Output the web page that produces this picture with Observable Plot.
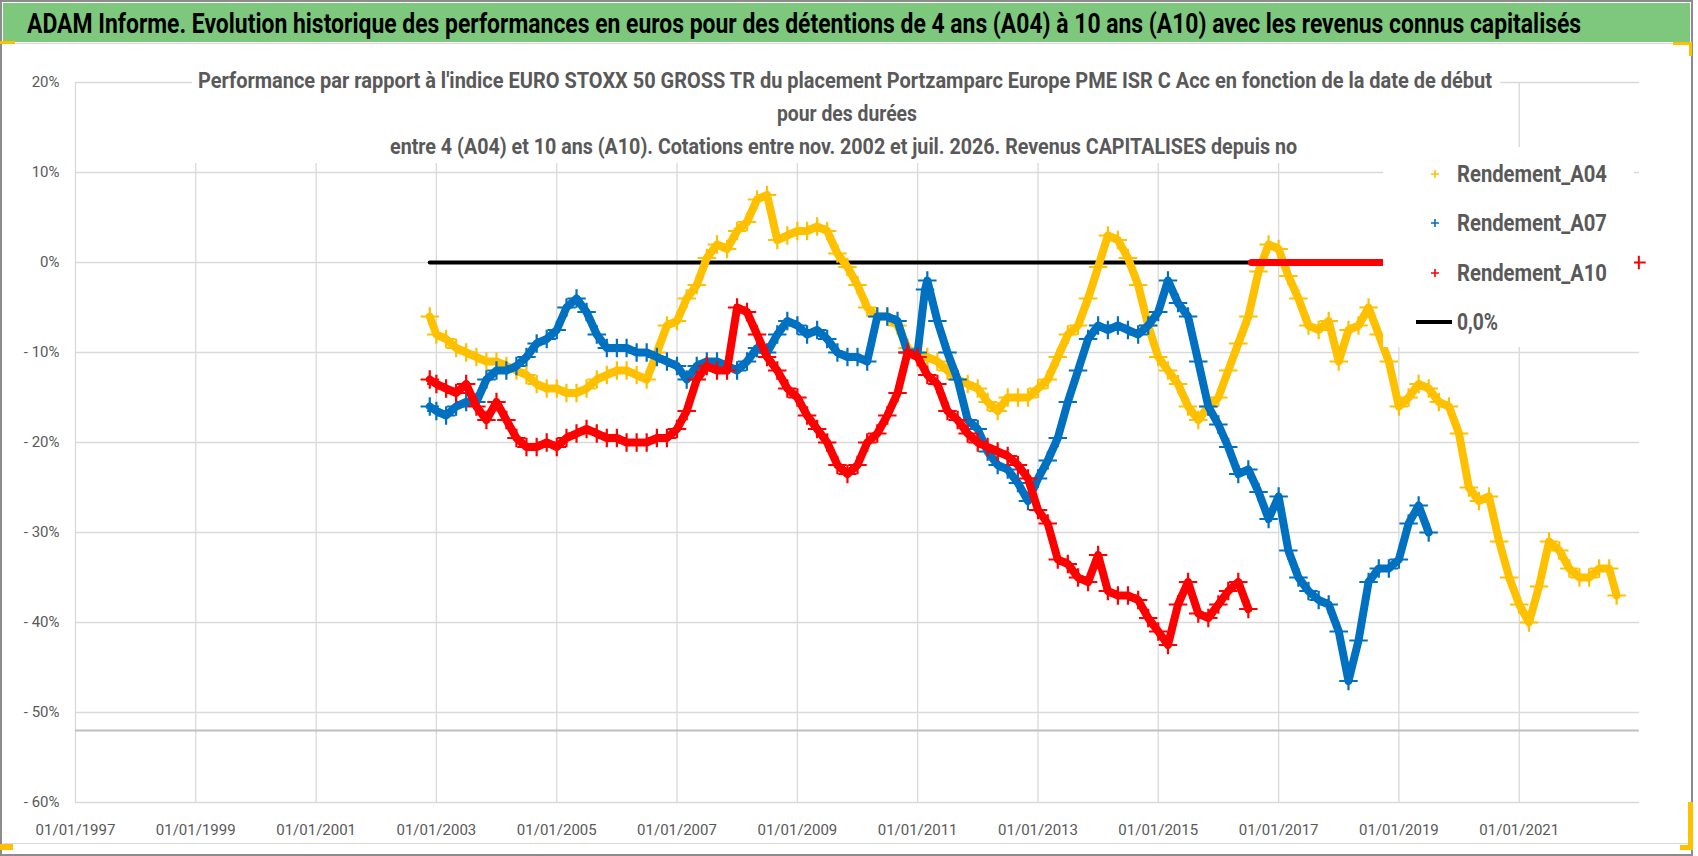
<!DOCTYPE html>
<html>
<head>
<meta charset="utf-8">
<script src="https://cdn.jsdelivr.net/npm/d3@7"></script>
<script src="https://cdn.jsdelivr.net/npm/@observablehq/plot@0.6"></script>
<style>
  body { margin: 0; background: #fff; }
  #chart { position: relative; width: 1698px; height: 856px; overflow: hidden; background: #fff; font-family: Roboto, "Open Sans", sans-serif; }
  #chart > svg { position: absolute; left: 0; top: 0; }
  .lg { font-family: Roboto, sans-serif; font-weight: bold; font-size: 23px; fill: #595959; }
  .st { font-family: Roboto, sans-serif; font-weight: bold; font-size: 22px; fill: #595959; }
  .tt { font-family: Roboto, sans-serif; font-weight: bold; font-size: 27px; fill: #000; }
</style>
</head>
<body>
<div id="chart">
</div>
<script>
// ---------- data ----------
const xTickYears = [1997, 1999, 2001, 2003, 2005, 2007, 2009, 2011, 2013, 2015, 2017, 2019, 2021];
const yTicks = [-60, -50, -40, -30, -20, -10, 0, 10, 20];
const axisLine = [-52];
const xDomain = ["1997-01-01", "2023-01-01"];

const seriesNames = ["Rendement_A04", "Rendement_A07", "Rendement_A10", "0,0%"];
const seriesColors = ["#FFC000", "#0070C0", "#FF0000", "#000000"];

const a04 = [
  ["2002-11-22",-6],["2003-01",-8],["2003-03",-8.5],["2003-05",-9.5],["2003-07",-10],["2003-09",-10.5],["2003-11",-11],
  ["2004-01",-11],["2004-03",-11.5],["2004-05",-12],["2004-07",-12.5],["2004-09",-13.5],["2004-11",-14],
  ["2005-01",-14],["2005-03",-14.5],["2005-05",-14.5],["2005-07",-14],["2005-09",-13],["2005-11",-12.5],
  ["2006-01",-12],["2006-03",-12],["2006-05",-12.5],["2006-07",-13],["2006-09",-10],["2006-11",-7],
  ["2007-01",-6.5],["2007-03",-4],["2007-05",-2.5],["2007-07",0.5],["2007-09",2],["2007-11",1.5],
  ["2008-01",3.5],["2008-03",4.5],["2008-05",7],["2008-07",7.5],["2008-09",2.5],["2008-11",3],
  ["2009-01",3.5],["2009-03",3.5],["2009-05",4],["2009-07",3.5],["2009-09",1],["2009-11",-0.5],
  ["2010-01",-2.5],["2010-03",-5],["2010-05",-6],["2010-07",-6],["2010-09",-7],["2010-11",-9.5],
  ["2011-01",-10.5],["2011-03",-10.5],["2011-05",-11],["2011-07",-12],["2011-09",-13],["2011-11",-13.5],
  ["2012-01",-14],["2012-03",-15.5],["2012-05",-16.5],["2012-07",-15],["2012-09",-15],["2012-11",-15],
  ["2013-01",-14],["2013-03",-13],["2013-05",-10.5],["2013-07",-8],["2013-09",-7],["2013-11",-4],
  ["2014-01",-0.5],["2014-03",3],["2014-05",2.5],["2014-07",0.5],["2014-09",-2.5],["2014-11",-7],
  ["2015-01",-10.5],["2015-03",-12],["2015-05",-13.5],["2015-07",-16],["2015-09",-17.5],["2015-11",-16],
  ["2016-01",-15],["2016-03",-12],["2016-05",-9],["2016-07",-6],["2016-09",-1],["2016-11",2],
  ["2017-01",1.5],["2017-03",-1.5],["2017-05",-4],["2017-07",-7],["2017-09",-7.5],["2017-11",-6.5],
  ["2018-01",-11],["2018-03",-7.5],["2018-05",-7],["2018-07",-5],["2018-09",-8],["2018-11",-11],
  ["2019-01",-16],["2019-03",-15],["2019-05",-13.5],["2019-07",-14],["2019-09",-15.5],["2019-11",-16],
  ["2020-01",-19],["2020-03",-25],["2020-05",-26.5],["2020-07",-26],["2020-09",-31],["2020-11",-35],
  ["2021-01",-38],["2021-03",-40],["2021-05",-36],["2021-07",-31],["2021-09",-32],["2021-11",-34],
  ["2022-01",-35],["2022-03",-35],["2022-05",-34],["2022-07",-34],["2022-08-15",-37]
];

const a07 = [
  ["2002-11-22",-16],["2003-01",-16.5],["2003-03",-17],["2003-05",-16],["2003-07",-15.5],["2003-09",-15.5],["2003-11",-13],
  ["2004-01",-12],["2004-03",-12],["2004-05",-11.5],["2004-07",-10.5],["2004-09",-9],["2004-11",-8.5],
  ["2005-01",-7.5],["2005-03",-5],["2005-05",-4],["2005-07",-5.5],["2005-09",-8],["2005-11",-9.5],
  ["2006-01",-9.5],["2006-03",-9.5],["2006-05",-10],["2006-07",-10],["2006-09",-10.5],["2006-11",-11],
  ["2007-01",-11.5],["2007-03",-13],["2007-05",-11.5],["2007-07",-11],["2007-09",-11],["2007-11",-11.5],
  ["2008-01",-12],["2008-03",-11],["2008-05",-9.5],["2008-07",-10],["2008-09",-8],["2008-11",-6.5],
  ["2009-01",-7],["2009-03",-8],["2009-05",-7.5],["2009-07",-8.5],["2009-09",-10],["2009-11",-10.5],
  ["2010-01",-10.5],["2010-03",-11],["2010-05",-6],["2010-07",-6],["2010-09",-6.5],["2010-11",-10],
  ["2011-01",-10],["2011-02-15",-3],["2011-03",-2],["2011-05",-6.5],["2011-07",-10],["2011-09",-13],["2011-11",-17.5],
  ["2012-01",-18.5],["2012-03",-21],["2012-05",-22.5],["2012-07",-23],["2012-09",-24.5],["2012-11",-26.5],
  ["2013-01",-24],["2013-03",-22],["2013-05",-19.5],["2013-07",-15.5],["2013-09",-12],["2013-11",-8.5],
  ["2014-01",-7],["2014-03",-7.5],["2014-05",-7],["2014-07",-7.5],["2014-09",-8],["2014-11",-7],
  ["2015-01",-5.5],["2015-03",-2],["2015-05",-4.5],["2015-07",-6],["2015-09",-11],["2015-11",-16],
  ["2016-01",-18],["2016-03",-20.5],["2016-05",-23.5],["2016-07",-23],["2016-09",-25.5],["2016-11",-28.5],
  ["2017-01",-26],["2017-03",-32],["2017-05",-35],["2017-07",-36.5],["2017-09",-37.5],["2017-11",-38],
  ["2018-01",-41],["2018-03",-46.5],["2018-05",-42],["2018-07",-35.5],["2018-09",-34],["2018-11",-34],
  ["2019-01",-33],["2019-03",-29],["2019-05",-27],["2019-07",-30]
];

const a10 = [
  ["2002-11-22",-13],["2003-01",-13.5],["2003-03",-14],["2003-05",-14.5],["2003-07",-13.5],["2003-09",-16],["2003-11",-17.5],
  ["2004-01",-15.5],["2004-03",-17.5],["2004-05",-19.5],["2004-07",-20.5],["2004-09",-20.5],["2004-11",-20],
  ["2005-01",-20.5],["2005-03",-19.5],["2005-05",-19],["2005-07",-18.5],["2005-09",-19],["2005-11",-19.5],
  ["2006-01",-19.5],["2006-03",-20],["2006-05",-20],["2006-07",-20],["2006-09",-19.5],["2006-11",-19.5],
  ["2007-01",-18.5],["2007-03",-16.5],["2007-05",-13],["2007-07",-11.5],["2007-09",-12],["2007-11",-12],
  ["2008-01",-5],["2008-03",-5.5],["2008-05",-8],["2008-07",-10.5],["2008-09",-12],["2008-11",-14],
  ["2009-01",-15],["2009-03",-17],["2009-05",-18.5],["2009-07",-20],["2009-09",-22.5],["2009-11",-23.5],
  ["2010-01",-22.5],["2010-03",-20],["2010-05",-19],["2010-07",-17],["2010-09",-14.5],["2010-11",-10],
  ["2011-01",-10.5],["2011-03",-12.5],["2011-05",-13.5],["2011-07",-16.5],["2011-09",-17.5],["2011-11",-19],
  ["2012-01",-20],["2012-03",-20.5],["2012-05",-21],["2012-07",-21.5],["2012-09",-22.5],["2012-11",-24],
  ["2013-01",-27.5],["2013-03",-29],["2013-05",-33],["2013-07",-33.5],["2013-09",-35],["2013-11",-35.5],
  ["2014-01",-32.5],["2014-03",-36.5],["2014-05",-37],["2014-07",-37],["2014-09",-37.5],["2014-11",-39.5],
  ["2015-01",-41],["2015-03",-42.5],["2015-05",-38],["2015-07",-35.5],["2015-09",-39],["2015-11",-39.5],
  ["2016-01",-38],["2016-03",-36.5],["2016-05",-35.5],["2016-07",-38.5]
];
const a10Zero = [["2016-07-20",0],["2018-10-01",0]];
const a10Last = [["2022-12-28",0]];
const zeroLine = [["2002-11-22",0],["2018-10-01",0]];

// ---------- chart ----------
const toRows = arr => arr.map(([d, v]) => ({date: new Date(d), value: v}));
const xTicks = xTickYears.map(y => new Date(Date.UTC(y, 0, 1)));
const yFmt = v => v < 0 ? "- " + Math.abs(v) + "%" : v + "%";
const gridStyle = {stroke: "#d9d9d9", strokeOpacity: 1, strokeWidth: 1.3};
const xy = {x: "date", y: "value"};

const seriesMarks = [a04, a07, a10].flatMap((s, i) => [
  Plot.line(toRows(s), {...xy, stroke: seriesColors[i], strokeWidth: 8, strokeLinejoin: "round", strokeLinecap: "round"}),
  Plot.dot(toRows(s), {...xy, symbol: "plus", r: 6, stroke: seriesColors[i], strokeWidth: 2.2})
]);

const plot = Plot.plot({
  width: 1698, height: 856,
  marginLeft: 75, marginRight: 59, marginTop: 82, marginBottom: 54,
  style: {fontFamily: "Roboto, sans-serif", fontSize: "15px", color: "#595959", background: "transparent"},
  x: {type: "utc", domain: xDomain.map(d => new Date(d))},
  y: {domain: [-60, 20]},
  marks: [
    Plot.gridX(xTicks, gridStyle),
    Plot.gridY(yTicks, gridStyle),
    Plot.ruleY(axisLine, {stroke: "#bfbfbf", strokeWidth: 2}),
    Plot.axisX(xTicks, {tickSize: 0, tickPadding: 22, tickFormat: d3.utcFormat("%d/%m/%Y"), label: null}),
    Plot.axisY(yTicks, {tickSize: 0, tickPadding: 16, tickFormat: yFmt, label: null}),
    Plot.line(toRows(zeroLine), {...xy, stroke: seriesColors[3], strokeWidth: 4}),
    ...seriesMarks,
    Plot.line(toRows(a10Zero), {...xy, stroke: seriesColors[2], strokeWidth: 7}),
    Plot.dot(toRows(a10Last), {...xy, symbol: "plus", r: 4.5, stroke: seriesColors[2], strokeWidth: 2})
  ]
});
document.getElementById("chart").appendChild(plot);

// ---------- overlay: title bar, chart title, legend, frame ----------
const ov = d3.select("#chart").append("svg")
  .attr("width", 1698).attr("height", 856).style("pointer-events", "none");

// scale a text horizontally so that it spans exactly w pixels from (x, y)
function fitText(cls, str, x, y, w) {
  const t = ov.append("text").attr("class", cls).attr("x", 0).attr("y", 0).text(str);
  const nat = t.node().getComputedTextLength() || w;
  t.attr("transform", `translate(${x},${y}) scale(${(w / nat).toFixed(4)},1)`);
  return t;
}

// boxes hiding gridlines behind title & legend
ov.append("rect").attr("x", 192).attr("y", 44).attr("width", 1308).attr("height", 119).attr("fill", "#fff");
ov.append("rect").attr("x", 1383).attr("y", 147).attr("width", 251).attr("height", 200).attr("fill", "#fff");

// green title bar
ov.append("rect").attr("x", 3).attr("y", 3).attr("width", 1687).attr("height", 39).attr("fill", "#7ec87e");
ov.append("line").attr("x1", 3).attr("x2", 1690).attr("y1", 43.5).attr("y2", 43.5).attr("stroke", "#d9d9d9");
fitText("tt", "ADAM Informe. Evolution historique des performances en euros pour des détentions de 4 ans (A04) à 10 ans (A10) avec les revenus connus capitalisés", 27, 33, 1555);

// chart subtitle (3 lines)
const subLines = [
  {t: "Performance par rapport à l'indice EURO STOXX 50 GROSS TR  du placement Portzamparc Europe PME ISR C Acc en fonction de la date de début", x: 198, y: 88, w: 1295},
  {t: "pour des durées", x: 777, y: 121, w: 140},
  {t: "entre 4 (A04) et 10 ans (A10).  Cotations entre nov. 2002 et juil. 2026. Revenus CAPITALISES  depuis no", x: 390, y: 154, w: 908}
];
subLines.forEach(l => fitText("st", l.t, l.x, l.y, l.w));

// legend
const lgY = [174, 223, 273, 322];
const lgW = [150, 150, 150, 41];
seriesNames.forEach((name, i) => {
  const cy = lgY[i];
  if (i < 3) {
    ov.append("path").attr("d", `M1431,${cy}h8M1435,${cy - 4}v8`).attr("stroke", seriesColors[i]).attr("stroke-width", 1.6);
  } else {
    ov.append("line").attr("x1", 1416).attr("x2", 1452).attr("y1", cy).attr("y2", cy).attr("stroke", seriesColors[i]).attr("stroke-width", 4);
  }
  fitText("lg", name, 1457, cy + 8, lgW[i]);
});

// frame
ov.append("line").attr("x1", 3).attr("x2", 1690).attr("y1", 843.5).attr("y2", 843.5).attr("stroke", "#d9d9d9");
ov.append("rect").attr("x", 1).attr("y", 1).attr("width", 1691).attr("height", 854)
  .attr("fill", "none").attr("stroke", "#8c8c8c").attr("stroke-width", 2);
// gold selection marks
const gold = "#FFC000";
[[0, 41, 15, 3], [1673, 42, 19, 3], [1689, 42, 3, 14], [0, 844, 13, 6], [1688, 802, 5, 48], [1680, 845, 13, 5]]
  .forEach(([x, y, w, h]) => ov.append("rect").attr("x", x).attr("y", y).attr("width", w).attr("height", h).attr("fill", gold));
</script>
</body>
</html>
